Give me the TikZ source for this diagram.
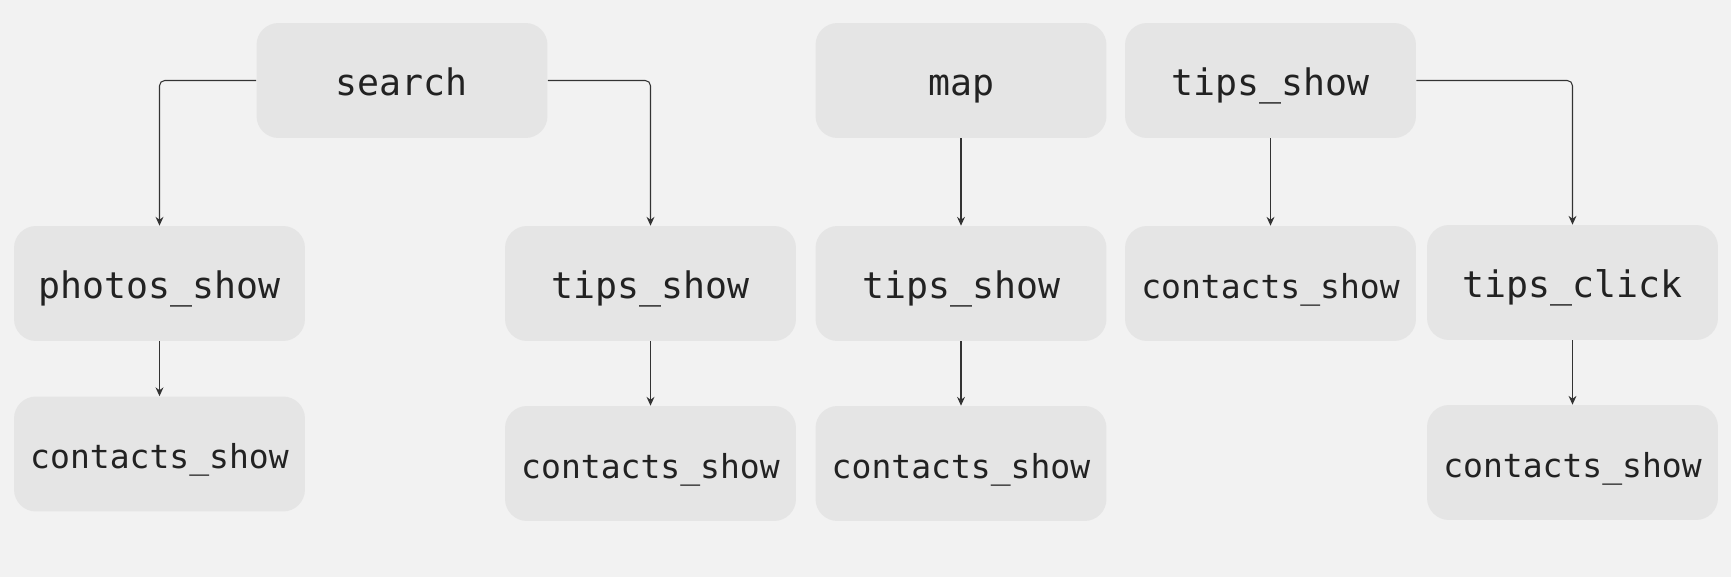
\documentclass[tikz,border=0pt]{standalone}
\usepackage{fontspec}
\setmonofont{DejaVu Sans Mono}
\usetikzlibrary{arrows.meta}
\definecolor{sfondo}{HTML}{F2F2F2}
\definecolor{blocco}{HTML}{E5E5E5}
\definecolor{linea}{HTML}{333333}
\definecolor{testo}{HTML}{222222}
\begin{document}
\begin{tikzpicture}[x=0.02cm, y=-0.02cm,
  blk/.style={fill=blocco, rounded corners=0.44cm, minimum width=5.82cm,
    minimum height=2.3cm, inner sep=0pt, text=testo,
    text height=18.5pt, text depth=1.5pt,
    font=\ttfamily\fontsize{20.8}{24}\selectfont},
  blks/.style={blk, font=\ttfamily\fontsize{18.8}{22}\selectfont},
  freccia/.style={draw=linea, line width=0.6pt, rounded corners=3pt,
    -{Stealth[length=5pt, width=4.5pt]}}]
  % Sfondo
  \fill[sfondo] (0,0) rectangle (1731,577);
  \useasboundingbox (0,0) rectangle (1731,577);

  % Blocchi
  \node[blk] (search) at (402,80.5) {search};
  \node[blk] (map) at (961,80.5) {map};
  \node[blk] (tipsA) at (1270.5,80.5) {tips\_show};

  \node[blk] (photos) at (159.5,283.5) {photos\_show};
  \node[blk] (tipsL) at (650.5,283.5) {tips\_show};
  \node[blk] (tipsM) at (961,283.5) {tips\_show};
  \node[blks] (contR) at (1270.5,283.5) {contacts\_show};
  \node[blk] (click) at (1572.5,282.5) {tips\_click};

  \node[blks] (contP) at (159.5,454) {contacts\_show};
  \node[blks] (contL) at (650.5,463.5) {contacts\_show};
  \node[blks] (contM) at (961,463.5) {contacts\_show};
  \node[blks] (contC) at (1572.5,462.5) {contacts\_show};

  % Frecce
  \draw[freccia] (search.west) -| (photos.north);
  \draw[freccia] (search.east) -| (tipsL.north);
  \draw[freccia] (tipsA.east) -| (click.north);
  \draw[freccia] (map) -- (tipsM);
  \draw[freccia] (tipsA) -- (contR);
  \draw[freccia] (photos) -- (contP);
  \draw[freccia] (tipsL) -- (contL);
  \draw[freccia] (tipsM) -- (contM);
  \draw[freccia] (click) -- (contC);
\end{tikzpicture}
\end{document}
